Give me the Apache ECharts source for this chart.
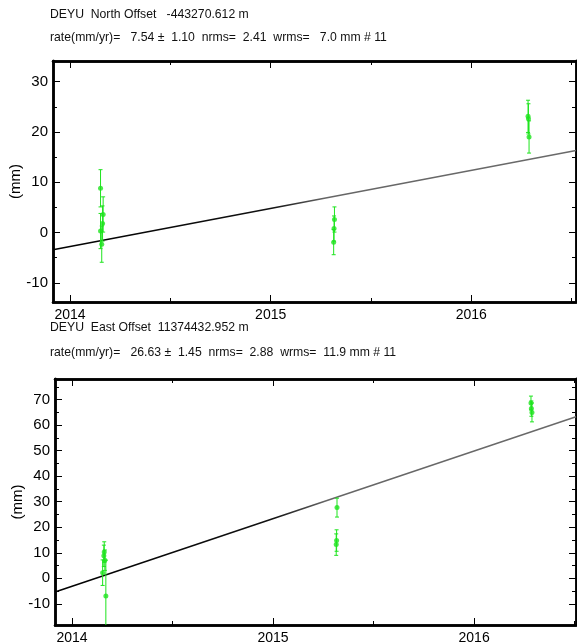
<!DOCTYPE html>
<html><head><meta charset="utf-8">
<script src="https://cdn.jsdelivr.net/npm/echarts@6/dist/echarts.min.js"></script>
<style>html,body{margin:0;padding:0;background:#fff}#c{width:577px;height:642px}</style>
</head><body><div id="c"></div>
<script>
// ---- North component ----
const northTitle = 'DEYU  North Offset   -443270.612 m';
const northStats = 'rate(mm/yr)=   7.54 \u00B1  1.10  nrms=  2.41  wrms=   7.0 mm # 11';
const northT   = [2014.152, 2014.165, 2014.162, 2014.152, 2014.158, 2015.318, 2015.316, 2015.314, 2016.283, 2016.285, 2016.288];
const northV   = [8.8, 3.6, 1.8, 0.3, -2.3, 2.6, 0.8, -1.9, 23.1, 22.6, 19.0];
const northErr = [3.7, 3.5, 3.5, 3.5, 3.6, 2.5, 2.5, 2.5, 3.2, 3.0, 3.2];
const northFitT = [2013.915, 2016.522];
const northFitV = [-3.4, 16.3];
const northYRange = [-13.8, 34.1];
const northYMajor = [-10, 0, 10, 20, 30];
const northYMinor = [-5, 5, 15, 25];

// ---- East component ----
const eastTitle = 'DEYU  East Offset  11374432.952 m';
const eastStats = 'rate(mm/yr)=   26.63 \u00B1  1.45  nrms=  2.88  wrms=  11.9 mm # 11';
const eastT   = [2014.160, 2014.158, 2014.163, 2014.152, 2014.168, 2015.318, 2015.316, 2015.314, 2016.283, 2016.285, 2016.288];
const eastV   = [10.3, 8.8, 7.1, 2.2, -6.9, 27.7, 14.8, 13.2, 68.7, 66.5, 65.0];
const eastErr = [4.0, 4.2, 4.0, 5.0, 14.0, 3.7, 4.2, 4.2, 2.7, 3.0, 3.7];
const eastFitT = [2013.915, 2016.507];
const eastFitV = [-5.4, 63.3];
const eastYRange = [-18.3, 78.1];
const eastYMajor = [-10, 0, 10, 20, 30, 40, 50, 60, 70];
const eastYMinor = [-5, 5, 15, 25, 35, 45, 55, 65, 75];

// ---- time axis ----
const xRangeTop = [2013.915, 2016.522];
const xRangeBot = [2013.915, 2016.507];
const xMajor = [2014, 2015, 2016];
const xMinor = [2014.5, 2015.5, 2016.5];

const FONT = 'Liberation Sans, Arial, Helvetica, sans-serif';
const GREEN = '#1ee41e';

function pairs(t, v) { return t.map((x, i) => [x, v[i]]); }
function errData(t, v, e) { return t.map((x, i) => [x, v[i] - e[i], v[i] + e[i]]); }

function errRender(params, api) {
  const cs = params.coordSys;
  const t = api.value(0);
  const lo = api.coord([t, api.value(1)]);
  const hi = api.coord([t, api.value(2)]);
  const top = cs.y, bot = cs.y + cs.height;
  const y1 = Math.max(top, Math.min(bot, hi[1]));
  const y2 = Math.max(top, Math.min(bot, lo[1]));
  const x = lo[0];
  const children = [{ type: 'line', shape: { x1: x, y1: y1, x2: x, y2: y2 }, style: { stroke: GREEN, lineWidth: 1 } }];
  if (hi[1] >= top) children.push({ type: 'line', shape: { x1: x - 2, y1: hi[1], x2: x + 2, y2: hi[1] }, style: { stroke: GREEN, lineWidth: 1 } });
  if (lo[1] <= bot) children.push({ type: 'line', shape: { x1: x - 2, y1: lo[1], x2: x + 2, y2: lo[1] }, style: { stroke: GREEN, lineWidth: 1 } });
  return { type: 'group', children: children };
}

const grids = [
  { left: 53, top: 61, width: 523, height: 241, containLabel: false, outerBoundsMode: 'none' },
  { left: 55, top: 379, width: 521, height: 246, containLabel: false, outerBoundsMode: 'none' }
];

const xAxes = [], yAxes = [];
function addAxes(gi, xr, yr, yMaj, yMin) {
  const lineStyle = { color: '#000', width: 2.5 };
  const base = { type: 'value', gridIndex: gi, splitLine: { show: false }, axisLine: { show: true, onZero: false, lineStyle } };
  xAxes.push(Object.assign({}, base, { position: 'bottom', min: xr[0], max: xr[1],
    axisTick: { show: true, inside: true, length: 7, customValues: xMajor, lineStyle: { color: '#000', width: 1 } },
    axisLabel: { show: true, customValues: xMajor, color: '#000', fontSize: 14, fontFamily: FONT, margin: 6, formatter: v => String(Math.round(v)) } }));
  xAxes.push(Object.assign({}, base, { position: 'bottom', min: xr[0], max: xr[1],
    axisTick: { show: true, inside: true, length: 4, customValues: xMinor, lineStyle: { color: '#000', width: 1 } },
    axisLabel: { show: false } }));
  xAxes.push(Object.assign({}, base, { position: 'top', min: xr[0], max: xr[1],
    axisTick: { show: true, inside: true, length: 7, customValues: xMajor, lineStyle: { color: '#000', width: 1 } },
    axisLabel: { show: false } }));
  xAxes.push(Object.assign({}, base, { position: 'top', min: xr[0], max: xr[1],
    axisTick: { show: true, inside: true, length: 4, customValues: xMinor, lineStyle: { color: '#000', width: 1 } },
    axisLabel: { show: false } }));
  yAxes.push(Object.assign({}, base, { position: 'left', min: yr[0], max: yr[1],
    name: '(mm)', nameLocation: 'middle', nameGap: 30, nameRotate: 90, nameMoveOverlap: false,
    nameTextStyle: { color: '#000', fontSize: 15, fontFamily: FONT },
    axisTick: { show: true, inside: true, length: 7, customValues: yMaj, lineStyle: { color: '#000', width: 1 } },
    axisLabel: { show: true, customValues: yMaj, color: '#000', fontSize: 15, fontFamily: FONT, margin: 5 } }));
  yAxes.push(Object.assign({}, base, { position: 'left', min: yr[0], max: yr[1],
    axisTick: { show: true, inside: true, length: 4, customValues: yMin, lineStyle: { color: '#000', width: 1 } },
    axisLabel: { show: false } }));
  yAxes.push(Object.assign({}, base, { position: 'right', min: yr[0], max: yr[1],
    axisTick: { show: true, inside: true, length: 7, customValues: yMaj, lineStyle: { color: '#000', width: 1 } },
    axisLabel: { show: false } }));
  yAxes.push(Object.assign({}, base, { position: 'right', min: yr[0], max: yr[1],
    axisTick: { show: true, inside: true, length: 4, customValues: yMin, lineStyle: { color: '#000', width: 1 } },
    axisLabel: { show: false } }));
}
addAxes(0, xRangeTop, northYRange, northYMajor, northYMinor);
addAxes(1, xRangeBot, eastYRange, eastYMajor, eastYMinor);

function fitGradient() {
  return new echarts.graphic.LinearGradient(0, 0, 1, 0, [
    { offset: 0, color: '#000' }, { offset: 0.42, color: '#111' }, { offset: 0.52, color: '#666' }, { offset: 1, color: '#6a6a6a' }
  ]);
}

function seriesFor(xi, yi, t, v, e, ft, fv) {
  return [
    { type: 'line', xAxisIndex: xi, yAxisIndex: yi, data: pairs(ft, fv), symbol: 'none', silent: true,
      lineStyle: { color: fitGradient(), width: 1.5 }, z: 2, animation: false },
    { type: 'custom', xAxisIndex: xi, yAxisIndex: yi, data: errData(t, v, e), renderItem: errRender,
      encode: { x: 0, y: [1, 2] }, z: 3, animation: false, silent: true },
    { type: 'scatter', xAxisIndex: xi, yAxisIndex: yi, data: pairs(t, v), symbol: 'circle', symbolSize: 5,
      itemStyle: { color: GREEN }, z: 4, animation: false, silent: true }
  ];
}

const textStyle = { fill: '#111', font: '13px ' + FONT };
function txt(text, top) {
  return { type: 'text', left: 50, top: top, scaleX: 0.94, style: Object.assign({ text: text }, textStyle) };
}
const option = {
  backgroundColor: '#fff',
  animation: false,
  grid: grids,
  xAxis: xAxes,
  yAxis: yAxes,
  graphic: [
    txt(northTitle, 8),
    txt(northStats, 31),
    txt(eastTitle, 321),
    txt(eastStats, 346)
  ],
  series: [].concat(
    seriesFor(0, 0, northT, northV, northErr, northFitT, northFitV),
    seriesFor(4, 4, eastT, eastV, eastErr, eastFitT, eastFitV)
  )
};
const chart = echarts.init(document.getElementById('c'), null, { renderer: 'canvas' });
chart.setOption(option);
</script></body></html>
